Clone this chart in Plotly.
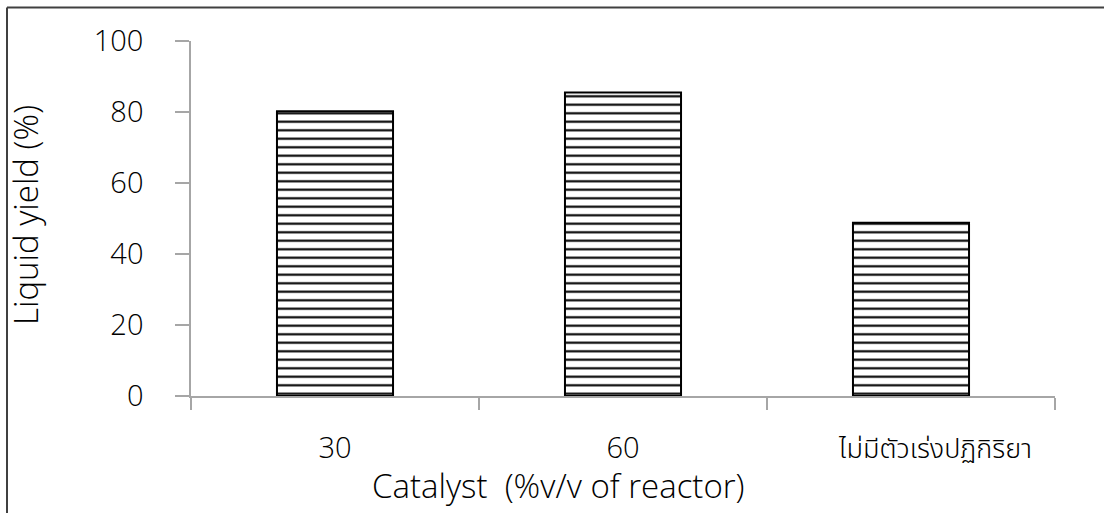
import plotly.graph_objects as go

# Liquid yield by catalyst loading
categories = ["30", "60", "ไม่มีตัวเร่งปฏิกิริยา"]
liquid_yield = [80.2, 85.5, 48.8]
y_ticks = [0, 20, 40, 60, 80, 100]

FONT = "Open Sans, Noto Sans, sans-serif"
TICK_SIZE = 29
TITLE_SIZE = 33
WEIGHT = 300
AXIS_GRAY = "#a6a6a6"

# Thai label uses its own font settings, nudged right with leading no-break spaces
x_ticktext = [
    c if c.isascii() else
    '<span style="font-family:Noto Sans Thai, Noto Sans, sans-serif;font-size:27px;font-weight:300">'
    + "\u00a0" * 7 + c + "</span>"
    for c in categories
]

fig = go.Figure(
    go.Bar(
        x=categories,
        y=liquid_yield,
        marker=dict(
            color="white",
            line=dict(color="black", width=2),
            pattern=dict(shape="-", size=8.5, solidity=0.25,
                         fgcolor="black", bgcolor="white", fillmode="replace"),
        ),
        width=0.403,
    )
)

fig.update_layout(
    width=1104,
    height=513,
    margin=dict(l=191, r=49, t=41, b=117),
    paper_bgcolor="white",
    plot_bgcolor="white",
    showlegend=False,
    font=dict(family=FONT, size=TICK_SIZE, color="black", weight=WEIGHT),
)

fig.update_xaxes(
    type="category",
    tickmode="array", tickvals=categories, ticktext=x_ticktext,
    showline=True, linecolor=AXIS_GRAY, linewidth=1.5,
    ticks="outside", tickson="boundaries", ticklen=12, tickwidth=1.5, tickcolor=AXIS_GRAY,
    ticklabelstandoff=25,
    showgrid=False, zeroline=False,
    tickfont=dict(family=FONT, size=TICK_SIZE, color="black", weight=WEIGHT),
)

fig.update_yaxes(
    range=[0, 100],
    tickvals=y_ticks,
    showline=True, linecolor=AXIS_GRAY, linewidth=1.5,
    ticks="outside", ticklen=14, tickwidth=1.5, tickcolor=AXIS_GRAY,
    ticklabelstandoff=26,
    showgrid=False, zeroline=False,
    tickfont=dict(family=FONT, size=TICK_SIZE, color="black", weight=WEIGHT),
)

# Axis titles
fig.add_annotation(
    text="Catalyst  (%v/v of reactor)", xref="paper", yref="paper",
    x=(558 - 191) / 864, y=-(485 - 396) / 355, showarrow=False,
    xanchor="center", yanchor="middle",
    font=dict(family=FONT, size=TITLE_SIZE, weight=WEIGHT),
)
fig.add_annotation(
    text="Liquid yield (%)", xref="paper", yref="paper",
    x=-(191 - 25) / 864, y=(396 - 215) / 355, textangle=-90, showarrow=False,
    xanchor="center", yanchor="middle",
    font=dict(family=FONT, size=TITLE_SIZE, weight=WEIGHT),
)

# Chart frame (left and top edges)
fig.add_shape(type="line", xref="paper", yref="paper",
              x0=-(191 - 7) / 864, x1=-(191 - 7) / 864,
              y0=(396 - 7.5) / 355, y1=-(520 - 396) / 355,
              line=dict(color="#404040", width=2))
fig.add_shape(type="line", xref="paper", yref="paper",
              x0=-(191 - 7) / 864, x1=(1110 - 191) / 864,
              y0=(396 - 7.5) / 355, y1=(396 - 7.5) / 355,
              line=dict(color="#404040", width=2))

fig.write_html("out.html")
